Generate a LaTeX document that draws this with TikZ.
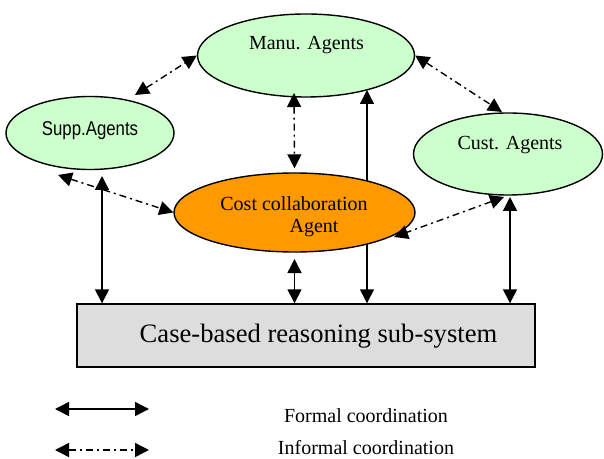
\documentclass[tikz,border=0pt]{standalone}
\usepackage{fontspec}
\setmainfont{Liberation Serif}
\newfontfamily\arialf{Liberation Sans}
\usetikzlibrary{shapes.geometric,arrows.meta,calc}
\definecolor{agentgreen}{HTML}{CCFFCC}
\definecolor{costorange}{HTML}{FF9900}
\definecolor{boxgray}{HTML}{DDDDDD}
\begin{document}
\begin{tikzpicture}[x=1pt,y=1pt,
  agent/.style={ellipse, draw, line width=1.4pt, fill=agentgreen, inner sep=0pt},
  txt/.style={anchor=base, inner sep=0pt, font=\fontsize{20}{24}\selectfont},
  formal/.style={line width=1.4pt, {Triangle[length=14pt,width=14pt]}-{Triangle[length=14pt,width=14pt]}},
  informal/.style={formal, dash pattern=on 7pt off 4pt on 2pt off 4pt}]
\useasboundingbox (0,0) rectangle (604,458);

% agent ellipses
\node[agent, minimum width=217pt, minimum height=83pt] (manu) at (306,402.5) {};
\node[agent, minimum width=168pt, minimum height=73pt] (supp) at (90,325) {};
\node[agent, minimum width=189pt, minimum height=82pt] (cust) at (508,304) {};

% case-based reasoning box
\node[draw, line width=1.4pt, fill=boxgray, minimum width=458pt, minimum height=63pt, inner sep=0pt] (box) at (306,122.5) {};

% formal link from box to manu (passes behind cost agent)
\coordinate (m4) at ($(manu.center)+(61,-34.5)$);
\draw[formal] (m4 |- box.north) -- (m4);

% cost collaboration agent
\node[ellipse, draw, line width=1.4pt, fill=costorange, inner sep=0pt, minimum width=241pt, minimum height=79pt] (cost) at (294.5,245.5) {};

% texts
\node[txt] (manut) at (306.5,408) {Manu. Agents};
\node[anchor=base, inner sep=0pt, font=\arialf\fontsize{20}{24}\selectfont] (suppt) at (90,322) {\scalebox{0.84}[1]{Supp.Agents}};
\node[txt] (custt) at (510,308) {Cust. Agents};
\node[txt] (costt1) at (294,247) {Cost collaboration};
\node[txt] (costt2) at (314,225) {Agent};
\node[anchor=base, inner sep=0pt, font=\fontsize{26.6}{30}\selectfont] (boxt) at (318.5,116) {Case-based reasoning sub-system};

% informal links
\coordinate (s1) at ($(supp.center)+(45,38)$);
\draw[informal] (s1) -- (manu.west);
\coordinate (c2) at ($(cust.center)+(-6,42)$);
\draw[informal] (manu.east) -- (c2);
\coordinate (m3) at ($(manu.center)+(-12,-37.5)$);
\coordinate (k3) at ($(cost.north)+(0,4)$);
\draw[informal] (m3) -- (k3);
\coordinate (s5) at ($(supp.center)+(-32,-42)$);
\draw[informal] (s5) -- (cost.west);
\coordinate (c8) at ($(cust.center)+(-4,-43)$);
\coordinate (k8) at ($(cost.center)+(99.5,-24.5)$);
\draw[informal] (c8) -- (k8);

% formal links
\coordinate (s6) at ($(supp.center)+(12,-43)$);
\draw[formal] (s6) -- (s6 |- box.north);
\coordinate (k7) at ($(cost.center)+(0,-46.5)$);
\draw[formal] (k7) -- (k7 |- box.north);
\coordinate (c9) at ($(cust.center)+(2,-43)$);
\draw[formal] (c9) -- (c9 |- box.north);

% legend
\coordinate (la) at (55,49);
\coordinate (lb) at (149,49);
\coordinate (lc) at (55,8);
\coordinate (ld) at (149,8);
\draw[formal] (la) -- (lb);
\draw[informal] (lc) -- (ld);
\node[txt] (leg1) at (366,36) {Formal coordination};
\node[txt] (leg2) at (366,4) {Informal coordination};
\end{tikzpicture}
\end{document}
